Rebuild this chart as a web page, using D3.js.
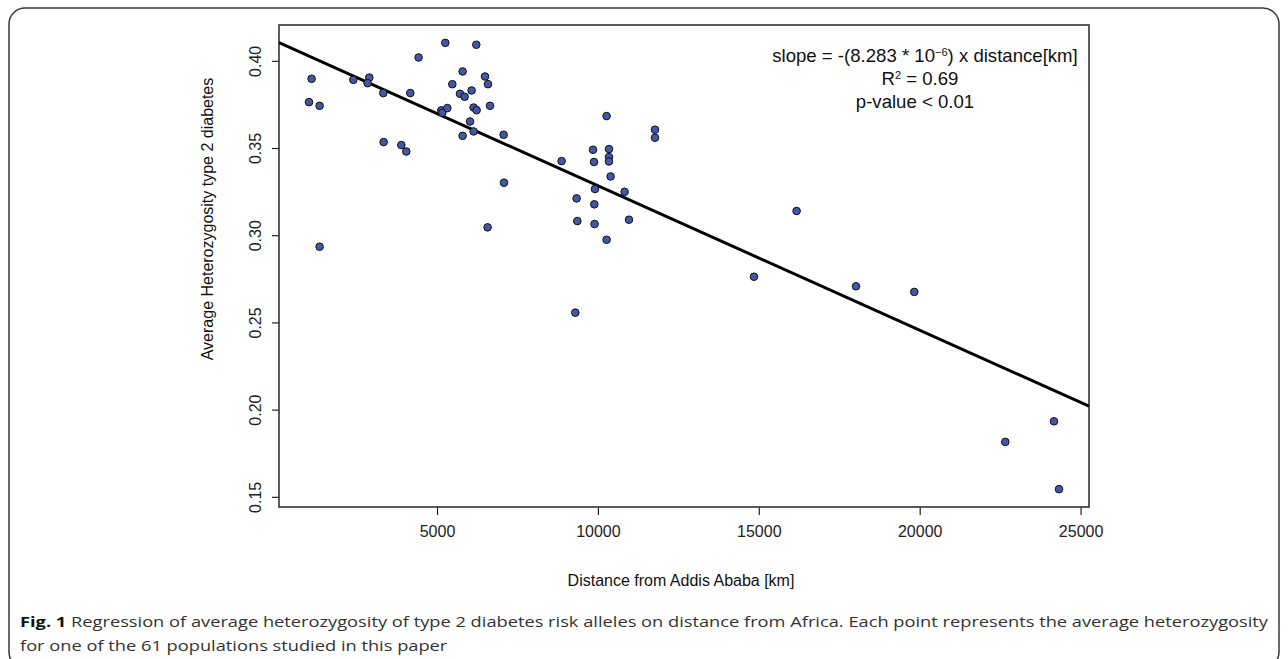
<!DOCTYPE html>
<html>
<head>
<meta charset="utf-8">
<script src="https://cdn.jsdelivr.net/npm/d3@7"></script>
<style>
  body { margin: 0; background: #fff; }
  svg text { font-family: "Liberation Sans", Arial, Helvetica, sans-serif; }
</style>
</head>
<body>
<svg id="chart" width="1288" height="659"></svg>
<script>
// distance from Addis Ababa [km] and average heterozygosity, one per population
let distanceKm = [1103, 1022, 1352, 1352, 2399, 2896, 2843, 3331, 4170, 4428,
    5258, 6221, 5796, 6492, 5476, 6585, 5715, 6075, 5858, 5134,
    5165, 5320, 6137, 6231, 6647, 6026, 5796, 6137, 7070, 3341,
    3891, 4046, 7082, 6572, 10270, 11774, 11774, 9848, 10345, 10345,
    10345, 8872, 9879, 10395, 9910, 10830, 9338, 9888, 9360, 9897,
    10966, 10270, 9298, 16175, 14851, 18020, 19832, 22660, 24173, 24329];
let heterozygosity = [0.3897, 0.3763, 0.3742, 0.2934, 0.3891, 0.3904, 0.3872, 0.3815, 0.3815, 0.4019,
    0.4103, 0.4092, 0.3939, 0.3910, 0.3866, 0.3866, 0.3811, 0.3830, 0.3794, 0.3716,
    0.3702, 0.3729, 0.3732, 0.3717, 0.3742, 0.3652, 0.3570, 0.3595, 0.3576, 0.3534,
    0.3517, 0.3480, 0.3301, 0.3045, 0.3683, 0.3605, 0.3559, 0.3490, 0.3494, 0.3448,
    0.3423, 0.3425, 0.3420, 0.3337, 0.3265, 0.3249, 0.3211, 0.3177, 0.3081, 0.3064,
    0.3089, 0.2974, 0.2556, 0.3139, 0.2762, 0.2707, 0.2675, 0.1815, 0.1933, 0.1544];

// fitted line: het = intercept + slope * distance
let fitIntercept = 0.4112;
let fitSlope = -8.283e-6;

let xTicks = [5000, 10000, 15000, 20000, 25000];
let yTicks = [0.15, 0.20, 0.25, 0.30, 0.35, 0.40];

let xTitle = 'Distance from Addis Ababa [km]';
let yTitle = 'Average Heterozygosity type 2 diabetes';
let captionBold = 'Fig. 1';
let captionLine1 = ' Regression of average heterozygosity of type 2 diabetes risk alleles on distance from Africa. Each point represents the average heterozygosity';
let captionLine2 = 'for one of the 61 populations studied in this paper';

let svg = d3.select('#chart');
let box = {l: 279, t: 25, r: 1089, b: 507};
let pointColor = '#4257a6';

// outer rounded frame
svg.append('rect')
    .attr('x', 9).attr('y', 8)
    .attr('width', 1270).attr('height', 660)
    .attr('rx', 16).attr('ry', 16)
    .attr('fill', 'none')
    .attr('stroke', '#3a3a3a')
    .attr('stroke-width', 1.5);

// R-style 4% padding on each side of the data range
function padExtent(arr){
    let e = d3.extent(arr);
    let p = (e[1] - e[0]) * 0.04;
    return [e[0] - p, e[1] + p];
}

let xScale = d3.scaleLinear().domain(padExtent(distanceKm)).range([box.l, box.r]);
let yScale = d3.scaleLinear().domain(padExtent(heterozygosity)).range([box.b, box.t]);

// x axis
let xAxis = d3.axisBottom(xScale).tickValues(xTicks).tickSize(8).tickFormat(d3.format('d'));
let gx = svg.append('g')
    .attr('transform', `translate(0, ${box.b})`)
    .call(xAxis);
gx.select('.domain').remove();
gx.selectAll('.tick line').attr('stroke', '#222').attr('stroke-width', 1.2);
gx.selectAll('.tick text')
    .attr('y', 30).attr('dy', 0)
    .attr('fill', '#222')
    .style('font-size', '16px')
    .style('font-family', '"Liberation Sans", Arial, sans-serif');

// y axis, labels parallel to the axis
let yAxis = d3.axisLeft(yScale).tickValues(yTicks).tickSize(7).tickFormat(d3.format('.2f'));
let gy = svg.append('g')
    .attr('transform', `translate(${box.l}, 0)`)
    .call(yAxis);
gy.select('.domain').remove();
gy.selectAll('.tick line').attr('stroke', '#222').attr('stroke-width', 1.2);
gy.selectAll('.tick text')
    .attr('transform', 'rotate(-90)')
    .attr('x', 0).attr('y', -18).attr('dy', 0)
    .attr('text-anchor', 'middle')
    .attr('fill', '#222')
    .style('font-size', '16px')
    .style('font-family', '"Liberation Sans", Arial, sans-serif');

// plot box
svg.append('rect')
    .attr('x', box.l).attr('y', box.t)
    .attr('width', box.r - box.l).attr('height', box.b - box.t)
    .attr('fill', 'none')
    .attr('stroke', '#333')
    .attr('stroke-width', 1.6);

// axis titles
svg.append('text')
    .attr('x', 681).attr('y', 586)
    .attr('text-anchor', 'middle')
    .style('font-size', '16px')
    .attr('fill', '#111')
    .text(xTitle);
svg.append('text')
    .attr('transform', 'translate(213, 219) rotate(-90)')
    .attr('text-anchor', 'middle')
    .style('font-size', '16px')
    .attr('fill', '#111')
    .text(yTitle);

// regression line, clipped to the plot box
svg.append('clipPath').attr('id', 'plotClip')
    .append('rect')
    .attr('x', box.l).attr('y', box.t)
    .attr('width', box.r - box.l).attr('height', box.b - box.t);
let xd = xScale.domain();
svg.append('line')
    .attr('clip-path', 'url(#plotClip)')
    .attr('x1', xScale(xd[0])).attr('y1', yScale(fitIntercept + fitSlope * xd[0]))
    .attr('x2', xScale(xd[1])).attr('y2', yScale(fitIntercept + fitSlope * xd[1]))
    .attr('stroke', '#000')
    .attr('stroke-width', 3);

// points
svg.append('g').selectAll('circle')
    .data(distanceKm)
    .enter()
    .append('circle')
    .attr('cx', d => xScale(d))
    .attr('cy', (d, i) => yScale(heterozygosity[i]))
    .attr('r', 3.8)
    .attr('fill', pointColor)
    .attr('stroke', '#111')
    .attr('stroke-width', 1);

// annotation
let ann = svg.append('g').style('font-size', '18.6px').attr('fill', '#111');
let a1 = ann.append('text').attr('x', 925).attr('y', 62).attr('text-anchor', 'middle');
a1.append('tspan').text('slope = -(8.283 * 10');
a1.append('tspan').attr('dy', -6).style('font-size', '11px').text('\u22126');
a1.append('tspan').attr('dy', 6).text(') x distance[km]');
let a2 = ann.append('text').attr('x', 920).attr('y', 85).attr('text-anchor', 'middle');
a2.append('tspan').text('R');
a2.append('tspan').attr('dy', -6).style('font-size', '11px').text('2');
a2.append('tspan').attr('dy', 6).text(' = 0.69');
ann.append('text').attr('x', 915).attr('y', 108).attr('text-anchor', 'middle')
    .text('p-value < 0.01');

// caption
let capFont = '"Open Sans", "Noto Sans", sans-serif';
let c1 = svg.append('text')
    .attr('x', 20).attr('y', 627)
    .style('font-family', capFont)
    .style('font-size', '15px')
    .attr('fill', '#333');
c1.append('tspan').style('font-weight', 'bold').attr('fill', '#111').text(captionBold);
c1.append('tspan').text(captionLine1);
let natural1 = c1.node().getComputedTextLength();
let squeeze = 1248 / natural1;
c1.attr('textLength', 1248).attr('lengthAdjust', 'spacingAndGlyphs');

let c2 = svg.append('text')
    .attr('x', 20).attr('y', 651)
    .style('font-family', capFont)
    .style('font-size', '15px')
    .attr('fill', '#333')
    .text(captionLine2);
let natural2 = c2.node().getComputedTextLength();
c2.attr('textLength', natural2 * squeeze).attr('lengthAdjust', 'spacingAndGlyphs');
</script>
</body>
</html>
